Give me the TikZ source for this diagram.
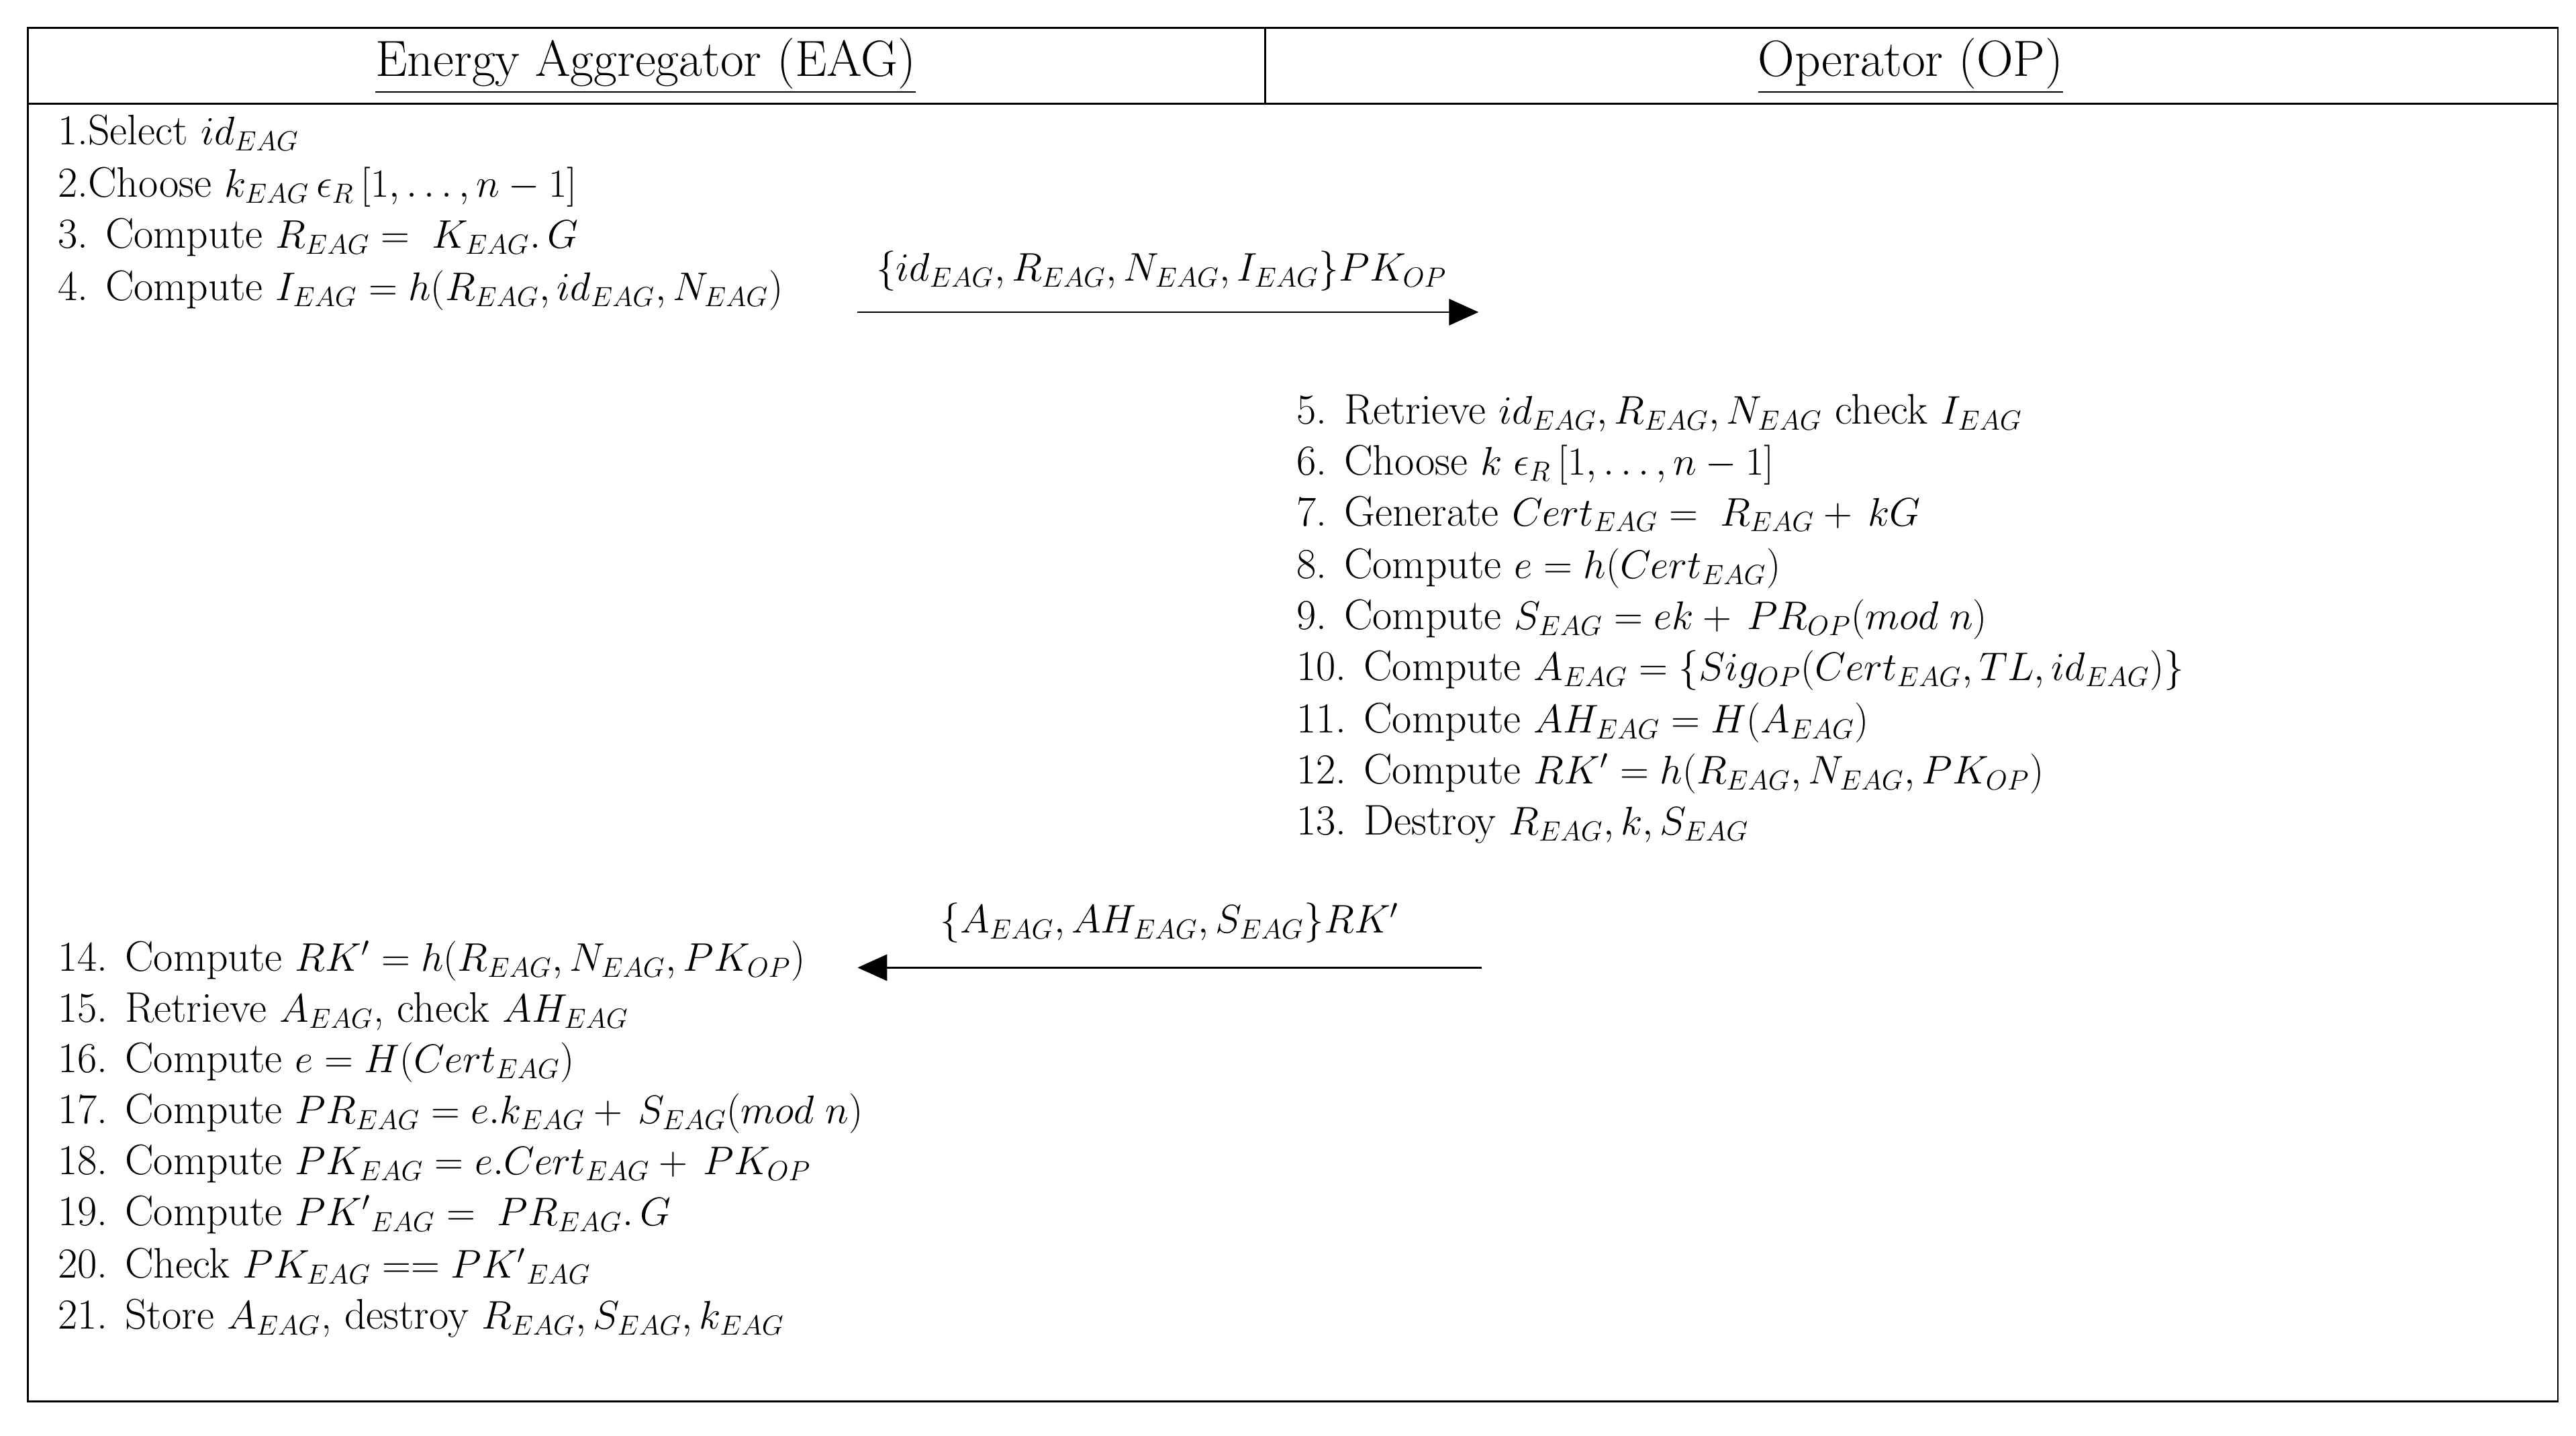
\documentclass[tikz,border=0pt]{standalone}
\usetikzlibrary{arrows.meta}
\begin{document}
\begin{tikzpicture}[x=0.025cm,y=-0.025cm,
  txt/.style={anchor=base west,inner sep=0pt,font=\fontsize{18.5}{22}\selectfont},
  hdr/.style={anchor=center,inner sep=0pt,font=\fontsize{22}{26}\selectfont},
  msg/.style={-{Triangle[length=0.45cm,width=0.4cm]},line width=0.8pt},
  box/.style={line width=0.8pt}]
\useasboundingbox (0,0) rectangle (1568,874);
\draw[box] (17,17) rectangle (1557,853);
\draw[box] (17,63) -- (1557,63);
\draw[box] (770,17) -- (770,63);
\node[hdr] (h1) at (393,40) {\underline{Energy Aggregator (EAG)}};
\node[hdr] (h2) at (1163,40) {\underline{Operator (OP)}};
\node[txt] (l1) at (35,88) {1.Select $id_{EAG}$};
\node[txt] (l2) at (35,120) {2.Choose $k_{EAG}\,\epsilon_R\,[1,\ldots,n-1]$};
\node[txt] (l3) at (35,151) {3. Compute $R_{EAG}=\;K_{EAG}.\,G$};
\node[txt] (l4) at (35,183) {4. Compute $I_{EAG}=h(R_{EAG},id_{EAG},N_{EAG})$};
\coordinate (a1s) at (522,190); \coordinate (a1e) at (900,190);
\draw[msg] (a1s) -- (a1e);
\node[txt,anchor=base] (m1) at (707,171) {$\{id_{EAG},R_{EAG},N_{EAG},I_{EAG}\}PK_{OP}$};
\node[txt] (r5) at (789,258) {5. Retrieve $id_{EAG},R_{EAG},N_{EAG}$ check $I_{EAG}$};
\node[txt] (r6) at (789,289) {6. Choose $k\;\epsilon_R\,[1,\ldots,n-1]$};
\node[txt] (r7) at (789,320) {7. Generate $Cert_{EAG}=\;R_{EAG}+\,kG$};
\node[txt] (r8) at (789,352) {8. Compute $e=h(Cert_{EAG})$};
\node[txt] (r9) at (789,383) {9. Compute $S_{EAG}=ek+\,PR_{OP}(mod\;n)$};
\node[txt] (r10) at (789,414) {10. Compute $A_{EAG}=\{Sig_{OP}(Cert_{EAG},TL,id_{EAG})\}$};
\node[txt] (r11) at (789,446) {11. Compute $AH_{EAG}=H(A_{EAG})$};
\node[txt] (r12) at (789,477) {12. Compute $RK'=h(R_{EAG},N_{EAG},PK_{OP})$};
\node[txt] (r13) at (789,508) {13. Destroy $R_{EAG},k,S_{EAG}$};
\coordinate (a2s) at (902,589); \coordinate (a2e) at (522,589);
\draw[msg] (a2s) -- (a2e);
\node[txt,anchor=base] (m2) at (712,568) {$\{A_{EAG},AH_{EAG},S_{EAG}\}RK'$};
\node[txt] (l14) at (35,591) {14. Compute $RK'=h(R_{EAG},N_{EAG},PK_{OP})$};
\node[txt] (l15) at (35,622) {15. Retrieve $A_{EAG}$, check $AH_{EAG}$};
\node[txt] (l16) at (35,653) {16. Compute $e=H(Cert_{EAG})$};
\node[txt] (l17) at (35,684) {17. Compute $PR_{EAG}=e.k_{EAG}+\,S_{EAG}(mod\;n)$};
\node[txt] (l18) at (35,715) {18. Compute $PK_{EAG}=e.Cert_{EAG}+\,PK_{OP}$};
\node[txt] (l19) at (35,746) {19. Compute ${PK'}_{EAG}=\;PR_{EAG}.\,G$};
\node[txt] (l20) at (35,778) {20. Check $PK_{EAG}=={PK'}_{EAG}$};
\node[txt] (l21) at (35,809) {21. Store $A_{EAG}$, destroy $R_{EAG},S_{EAG},k_{EAG}$};
\end{tikzpicture}
\end{document}
